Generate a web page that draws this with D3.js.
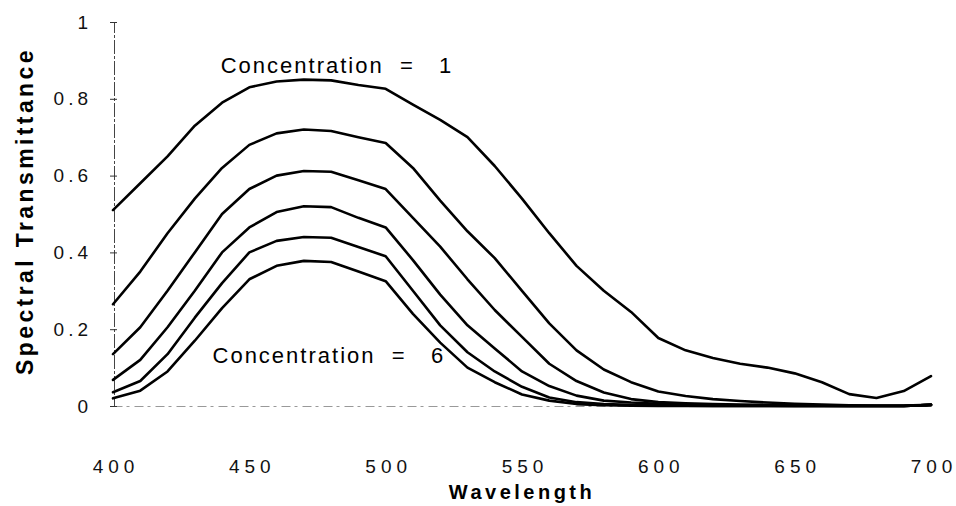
<!DOCTYPE html>
<html>
<head>
<meta charset="utf-8">
<script src="https://cdn.jsdelivr.net/npm/d3@7"></script>
<style>
  html, body { margin: 0; padding: 0; background: #fff; }
  svg { display: block; font-family: "Liberation Sans", Arial, sans-serif; }
</style>
</head>
<body>
<svg id="chart" width="956" height="506"></svg>
<script>
// wavelengths (nm) and transmittance, one list per concentration
const wavelengths = [400, 410, 420, 430, 440, 450, 460, 470, 480, 490, 500, 510, 520, 530, 540, 550,
  560, 570, 580, 590, 600, 610, 620, 630, 640, 650, 660, 670, 680, 690, 700];

const conc1 = [0.51, 0.58, 0.65, 0.73, 0.79, 0.83, 0.845, 0.85, 0.848, 0.836, 0.826, 0.785, 0.745, 0.70, 0.625, 0.54,
  0.45, 0.365, 0.30, 0.245, 0.177, 0.145, 0.125, 0.11, 0.10, 0.085, 0.062, 0.031, 0.021, 0.039, 0.078];
const conc2 = [0.265, 0.35, 0.45, 0.54, 0.62, 0.68, 0.71, 0.72, 0.716, 0.70, 0.685, 0.62, 0.535, 0.455, 0.385, 0.30,
  0.215, 0.145, 0.095, 0.062, 0.038, 0.026, 0.018, 0.013, 0.009, 0.006, 0.004, 0.002, 0.001, 0.001, 0.003];
const conc3 = [0.135, 0.205, 0.30, 0.40, 0.50, 0.565, 0.60, 0.612, 0.61, 0.588, 0.565, 0.49, 0.415, 0.33, 0.25, 0.18,
  0.11, 0.065, 0.035, 0.018, 0.01, 0.007, 0.005, 0.004, 0.003, 0.002, 0.001, 0, 0, 0, 0.003];
const conc4 = [0.068, 0.12, 0.205, 0.30, 0.40, 0.465, 0.505, 0.52, 0.518, 0.49, 0.465, 0.38, 0.29, 0.21, 0.15, 0.09,
  0.052, 0.027, 0.014, 0.009, 0.006, 0.004, 0.003, 0.002, 0.001, 0, 0, 0, 0, 0, 0.003];
const conc5 = [0.036, 0.065, 0.135, 0.23, 0.32, 0.40, 0.43, 0.44, 0.438, 0.414, 0.39, 0.30, 0.21, 0.14, 0.09, 0.05,
  0.022, 0.01, 0.005, 0.003, 0.002, 0.001, 0, 0, 0, 0, 0, 0, 0, 0, 0.003];
const conc6 = [0.02, 0.04, 0.09, 0.17, 0.255, 0.33, 0.365, 0.378, 0.375, 0.35, 0.325, 0.24, 0.165, 0.10, 0.062, 0.03,
  0.014, 0.005, 0.002, 0.001, 0, 0, 0, 0, 0, 0, 0, 0, 0, 0, 0.003];

const xTicks = [400, 450, 500, 550, 600, 650, 700];
const yTicks = [0, 0.2, 0.4, 0.6, 0.8, 1];
const yTickLabels = ["0", "0.2", "0.4", "0.6", "0.8", "1"];

const series = [conc1, conc2, conc3, conc4, conc5, conc6];

const xTitle = "Wavelength";
const yTitle = "Spectral Transmittance";

// annotations: [text, wavelength, transmittance] for the start of each label
const notes = [
  ["Concentration  =   1", 439.5, 0.866],
  ["Concentration  =   6", 436.5, 0.112]
];

(function () {
  var width = 956, height = 506;
  var margin = {top: 22, right: 25, bottom: 100, left: 113};

  var x = d3.scaleLinear()
    .domain([400, 700])
    .range([margin.left, width - margin.right]);

  var y = d3.scaleLinear()
    .domain([0, 1])
    .range([height - margin.bottom, margin.top]);

  var svg = d3.select("#chart");

  // x axis: faint broken baseline, no tick marks
  var xAxis = svg.append("g")
    .attr("transform", `translate(0,${y(0)})`)
    .call(d3.axisBottom(x).tickValues(xTicks).tickSize(0).tickPadding(54).tickFormat(d3.format("d")));
  xAxis.select(".domain")
    .attr("stroke", "#999")
    .attr("stroke-width", 1)
    .attr("stroke-dasharray", "9,4,3,5");
  xAxis.selectAll("text")
    .attr("font-size", 19)
    .attr("letter-spacing", 5)
    .attr("dx", 2.5)
    .attr("fill", "#111");

  // y axis: thin line, ticks crossing it
  var yAxis = svg.append("g")
    .attr("transform", `translate(${margin.left + 1},0)`)
    .call(d3.axisLeft(y).tickValues(yTicks).tickSize(4).tickPadding(18)
      .tickFormat((d, i) => yTickLabels[i]));
  yAxis.select(".domain")
    .attr("stroke", "#444")
    .attr("stroke-width", 1)
    .attr("stroke-dasharray", "14,2,3,2");
  yAxis.selectAll(".tick line")
    .attr("x2", -4)
    .attr("x1", 3)
    .attr("stroke", "#333");
  yAxis.selectAll("text")
    .attr("font-size", 19)
    .attr("letter-spacing", 4)
    .attr("fill", "#111");

  // titles
  svg.append("text")
    .attr("x", (x(400) + x(700)) / 2)
    .attr("y", 499)
    .attr("text-anchor", "middle")
    .attr("font-size", 20)
    .attr("font-weight", "bold")
    .attr("letter-spacing", 3.5)
    .text(xTitle);

  svg.append("text")
    .attr("transform", `translate(33,211) rotate(-90)`)
    .attr("text-anchor", "middle")
    .attr("font-size", 23)
    .attr("font-weight", "bold")
    .attr("letter-spacing", 3.4)
    .text(yTitle);

  // curves
  var line = d3.line()
    .x((d, i) => x(wavelengths[i]))
    .y(d => y(d));

  svg.append("g")
    .attr("fill", "none")
    .attr("stroke", "#000")
    .attr("stroke-width", 2.6)
    .attr("stroke-linejoin", "round")
    .attr("stroke-linecap", "round")
    .selectAll("path")
    .data(series)
    .enter().append("path")
    .attr("d", d => line(d));

  // labels
  svg.append("g")
    .selectAll("text")
    .data(notes)
    .enter().append("text")
    .attr("x", d => x(d[1]))
    .attr("y", d => y(d[2]))
    .attr("font-size", 22)
    .attr("letter-spacing", 2)
    .style("white-space", "pre")
    .text(d => d[0]);
}());
</script>
</body>
</html>
